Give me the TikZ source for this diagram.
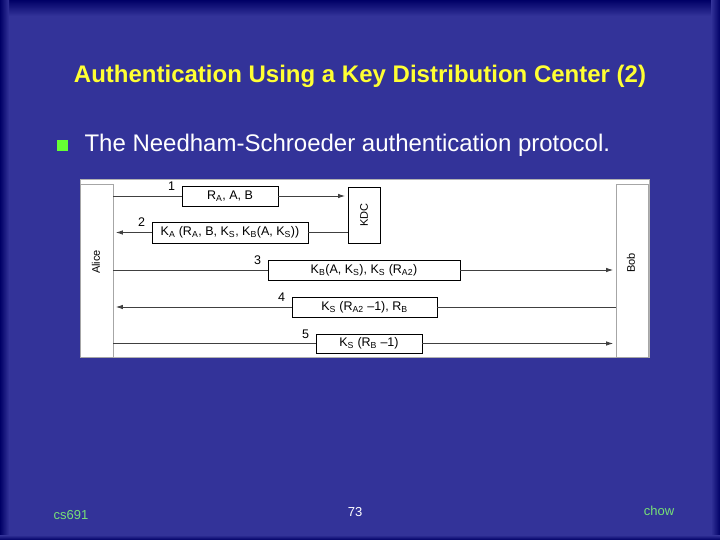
\documentclass[tikz,border=0pt]{standalone}
\usepackage{fontspec}
\setmainfont{Liberation Sans}
\usetikzlibrary{arrows.meta,positioning}

\definecolor{slidebg}{HTML}{333399}
\definecolor{slideedge}{HTML}{000066}
\definecolor{titleyellow}{HTML}{FFFF33}
\definecolor{bulletgreen}{HTML}{66FF33}
\definecolor{footgreen}{HTML}{77E077}

\tikzset{
    msgbox/.style={draw=black, line width=0.9pt, fill=white, inner sep=0pt, minimum height=20pt, font=\fontsize{12.5}{14}\selectfont},
    lifeline/.style={draw=gray!70, line width=0.8pt, fill=white, inner sep=0pt},
    msgline/.style={draw=black!75, line width=0.8pt},
    arrowtip/.style={-{Latex[length=7pt,width=4.5pt]}, shorten >=2.5pt},
    steplbl/.style={anchor=base east, xshift=-3pt, yshift=-5pt, font=\fontsize{12.5}{14}\selectfont},
    partylbl/.style={rotate=90},
}

\begin{document}
\begin{tikzpicture}[x=1pt, y=-1pt,
        every node/.style={font=\fontsize{11}{13}\selectfont},
    ]
    % Slide background
    \fill[slidebg] (0,0) rectangle (720,540);
    \shade[top color=slideedge, bottom color=slidebg] (0,0) rectangle (720,16);
    \shade[left color=slideedge, right color=slidebg] (0,0) rectangle (9,540);
    \shade[left color=slidebg, right color=slideedge] (711,0) rectangle (720,540);
    \shade[top color=slidebg, bottom color=slideedge] (0,535) rectangle (720,540);
    \useasboundingbox (0,0) rectangle (720,540);

    % Title and bullet
    \node[font=\fontsize{24}{28}\selectfont\bfseries, text=titleyellow] (title) at (360,76) {Authentication Using a Key Distribution Center (2)};
    \fill[bulletgreen] (57,140) rectangle (68,151);
    \node[font=\fontsize{24}{28}\selectfont, text=white, anchor=west] (bullet) at (81,145) {The Needham-Schroeder authentication protocol.};

    % Diagram panel
    \draw[fill=white, draw=gray!60, line width=0.6pt] (80,179) rectangle (649,357);

    % Parties
    \node[lifeline, minimum width=33pt, minimum height=173pt] (alice) at (96.5,270.5) {};
    \node[lifeline, minimum width=32pt, minimum height=173pt] (bob) at (632,270.5) {};
    \node[msgbox, minimum width=32pt, minimum height=56pt] (kdc) at (364,215) {};
    \node[partylbl] (alicelbl) at (96,262) {Alice};
    \node[partylbl] (boblbl) at (631,263) {Bob};
    \node[partylbl] (kdclbl) at (kdc) {KDC};

    % Messages
    \node[msgbox, minimum width=96pt] (m1) at (230,196) {R\textsubscript{A}, A, B};
    \node[msgbox, minimum width=156pt, minimum height=21pt] (m2) at (230,232.5) {K\textsubscript{A} (R\textsubscript{A}, B, K\textsubscript{S}, K\textsubscript{B}(A, K\textsubscript{S}))};
    \node[msgbox, minimum width=192pt] (m3) at (364,270) {K\textsubscript{B}(A, K\textsubscript{S}), K\textsubscript{S} (R\textsubscript{A2})};
    \node[msgbox, minimum width=145pt] (m4) at (364.5,307) {K\textsubscript{S} (R\textsubscript{A2} \textendash1), R\textsubscript{B}};
    \node[msgbox, minimum width=106pt, minimum height=19pt] (m5) at (369,343.5) {K\textsubscript{S} (R\textsubscript{B} \textendash1)};

    % Step numbers
    \node[steplbl] (s1) at (m1.north west) {1};
    \node[steplbl] (s2) at (m2.north west) {2};
    \node[steplbl] (s3) at (m3.north west) {3};
    \node[steplbl] (s4) at (m4.north west) {4};
    \node[steplbl] (s5) at (m5.north west) {5};

    % Connectors
    \draw[msgline] (alice.east |- m1.west) -- (m1.west);
    \draw[msgline, arrowtip] (m1.east) -- (kdc.west |- m1.east);
    \draw[msgline] (kdc.west |- m2.east) -- (m2.east);
    \draw[msgline, arrowtip] (m2.west) -- (alice.east |- m2.west);
    \draw[msgline] (alice.east |- m3.west) -- (m3.west);
    \draw[msgline, arrowtip] (m3.east) -- (bob.west |- m3.east);
    \draw[msgline] (bob.west |- m4.east) -- (m4.east);
    \draw[msgline, arrowtip] (m4.west) -- (alice.east |- m4.west);
    \draw[msgline] (alice.east |- m5.west) -- (m5.west);
    \draw[msgline, arrowtip] (m5.east) -- (bob.west |- m5.east);

    % Footer
    \node[font=\fontsize{13}{15}\selectfont, text=footgreen] (course) at (71,515) {cs691};
    \node[font=\fontsize{13}{15}\selectfont, text=white] (page) at (355,512) {73};
    \node[font=\fontsize{13}{15}\selectfont, text=footgreen] (author) at (659,511) {chow};
\end{tikzpicture}
\end{document}
